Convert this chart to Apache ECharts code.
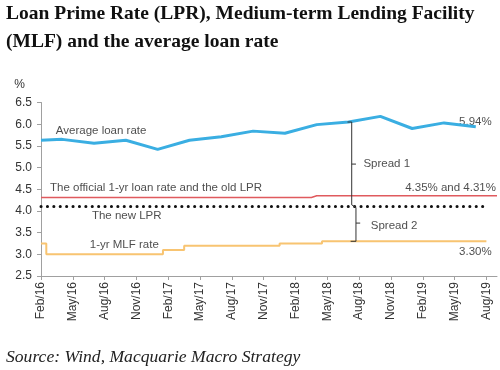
<!DOCTYPE html>
<html>
<head>
<meta charset="utf-8">
<script src="https://cdn.jsdelivr.net/npm/echarts@6/dist/echarts.min.js"></script>
<style>html,body{margin:0;padding:0;background:#fff}#c{width:500px;height:370px}</style>
</head>
<body>
<div id="c"></div>
<script>
const categories = ['Feb/16','Mar/16','Apr/16','May/16','Jun/16','Jul/16','Aug/16','Sep/16','Oct/16','Nov/16','Dec/16',
  'Jan/17','Feb/17','Mar/17','Apr/17','May/17','Jun/17','Jul/17','Aug/17','Sep/17','Oct/17','Nov/17','Dec/17',
  'Jan/18','Feb/18','Mar/18','Apr/18','May/18','Jun/18','Jul/18','Aug/18','Sep/18','Oct/18','Nov/18','Dec/18',
  'Jan/19','Feb/19','Mar/19','Apr/19','May/19','Jun/19','Jul/19','Aug/19','Sep/19'];
const yTicks = [2.5, 3.0, 3.5, 4.0, 4.5, 5.0, 5.5, 6.0, 6.5];

const avgLoanDates  = ['Feb/16','Apr/16','Jul/16','Oct/16','Jan/17','Apr/17','Jul/17','Oct/17','Jan/18','Apr/18','Jul/18','Oct/18','Jan/19','Apr/19','Jul/19'];
const avgLoanValues = [5.63, 5.65, 5.56, 5.63, 5.42, 5.63, 5.71, 5.84, 5.79, 5.99, 6.05, 6.18, 5.90, 6.03, 5.94];

// monthly Feb/16 .. Aug/19
const mlfRate = [3.25,
  3.00,3.00,3.00,3.00,3.00,3.00,3.00,3.00,3.00,3.00,3.00,
  3.10,3.10,
  3.20,3.20,3.20,3.20,3.20,3.20,3.20,3.20,3.20,
  3.25,3.25,3.25,3.25,
  3.30,3.30,3.30,3.30,3.30,3.30,3.30,3.30,3.30,3.30,3.30,3.30,3.30,3.30,3.30,3.30];
// monthly Feb/16 .. Sep/19
const oldLpr = [4.31,4.31,4.31,4.31,4.31,4.31,4.31,4.31,4.31,4.31,4.31,4.31,4.31,4.31,4.31,4.31,4.31,4.31,4.31,4.31,4.31,4.31,4.31,4.31,4.31,4.31,
  4.35,4.35,4.35,4.35,4.35,4.35,4.35,4.35,4.35,4.35,4.35,4.35,4.35,4.35,4.35,4.35,4.35,4.35];
const newLprValue = 4.10;
const newLprStart = 'Feb/16', newLprEnd = 'Aug/19';

// annotation bracket (x in month index from Feb/16, y in %)
const spreadBracket = [[28.9, 6.05], [29.3, 6.05], [29.3, 4.14], [29.7, 4.08], [29.7, 3.30], [29.2, 3.30]];
const spread1Tick = [[29.3, 5.08], [29.7, 5.08]];
const spread2Tick = [[29.7, 3.72], [30.1, 3.72]];

const textLabels = [
  {x: 1.4,  y: 5.84, text: 'Average loan rate', side: 'right'},
  {x: 0.85, y: 4.53, text: 'The official 1-yr loan rate and the old LPR', side: 'right'},
  {x: 4.8,  y: 3.88, text: 'The new LPR', side: 'right'},
  {x: 4.6,  y: 3.21, text: '1-yr MLF rate', side: 'right'},
  {x: 42.5, y: 6.05, text: '5.94%', side: 'left'},
  {x: 42.9, y: 4.53, text: '4.35% and 4.31%', side: 'left'},
  {x: 42.5, y: 3.05, text: '3.30%', side: 'left'},
  {x: 30.4, y: 5.08, text: 'Spread 1', side: 'right'},
  {x: 31.1, y: 3.65, text: 'Spread 2', side: 'right'}
];

const chart = echarts.init(document.getElementById('c'), null, {renderer: 'canvas'});
const axisGray = '#a0a0a0';
const txt = '#222';
const sans = 'Liberation Sans';

chart.setOption({
  animation: false,
  backgroundColor: '#fff',
  title: [{
    text: 'Loan Prime Rate (LPR), Medium-term Lending Facility\n(MLF) and the average loan rate',
    left: 1, top: -5,
    textStyle: {fontFamily: 'Liberation Serif', fontWeight: 'bold', fontSize: 19.5, lineHeight: 28, color: '#111'}
  }, {
    text: 'Source: Wind, Macquarie Macro Strategy',
    left: 1, top: 343,
    textStyle: {fontFamily: 'Liberation Serif', fontStyle: 'italic', fontWeight: 'normal', fontSize: 17.6, color: '#222'}
  }],
  grid: {left: 41, right: 3, top: 102.5, bottom: 94, containLabel: false},
  xAxis: [{
    type: 'category', data: categories, boundaryGap: false,
    axisLine: {lineStyle: {color: axisGray, width: 1}},
    axisTick: {show: true, interval: 2, length: 4, lineStyle: {color: axisGray}},
    axisLabel: {interval: 2, rotate: 90, margin: 6, fontFamily: sans, fontSize: 12, color: '#333'},
    splitLine: {show: false}
  }, {
    type: 'value', min: 0, max: 43, show: false
  }],
  yAxis: {
    type: 'value', min: yTicks[0], max: yTicks[yTicks.length - 1], interval: 0.5,
    name: '%', nameLocation: 'end', nameGap: 12,
    nameTextStyle: {fontFamily: sans, fontSize: 12, color: '#333', align: 'right', padding: [0, 16, 0, 0]},
    axisLine: {show: true, lineStyle: {color: axisGray}},
    axisTick: {show: true, length: 4, lineStyle: {color: axisGray}},
    axisLabel: {margin: 9, fontFamily: sans, fontSize: 12, color: '#333', formatter: v => v.toFixed(1)},
    splitLine: {show: false}
  },
  series: [{
    name: 'Old LPR', type: 'line', data: oldLpr, step: 'middle', symbol: 'none',
    lineStyle: {color: '#e05a5e', width: 1.5}
  }, {
    name: 'New LPR', type: 'line', symbol: 'none',
    data: [[newLprStart, newLprValue], [newLprEnd, newLprValue]],
    lineStyle: {color: '#111', width: 3, type: [0.1, 6.3], cap: 'round'}
  }, {
    name: 'MLF', type: 'line', data: mlfRate, step: 'middle', symbol: 'none',
    lineStyle: {color: '#f8c471', width: 2}
  }, {
    name: 'Average loan rate', type: 'line', symbol: 'none',
    data: avgLoanDates.map((d, i) => [d, avgLoanValues[i]]),
    lineStyle: {color: '#3aaee2', width: 3}
  }, {
    type: 'line', xAxisIndex: 1, symbol: 'none', data: spreadBracket,
    lineStyle: {color: '#333', width: 1}
  }, {
    type: 'line', xAxisIndex: 1, symbol: 'none', data: spread1Tick,
    lineStyle: {color: '#333', width: 1}
  }, {
    type: 'line', xAxisIndex: 1, symbol: 'none', data: spread2Tick,
    lineStyle: {color: '#333', width: 1}
  }, {
    type: 'scatter', xAxisIndex: 1, symbolSize: 0, silent: true,
    data: textLabels.map(t => ({
      value: [t.x, t.y],
      label: {show: true, position: t.side, distance: 0, formatter: t.text,
        fontFamily: sans, fontSize: 11.5, color: txt}
    }))
  }]
});
</script>
</body>
</html>
